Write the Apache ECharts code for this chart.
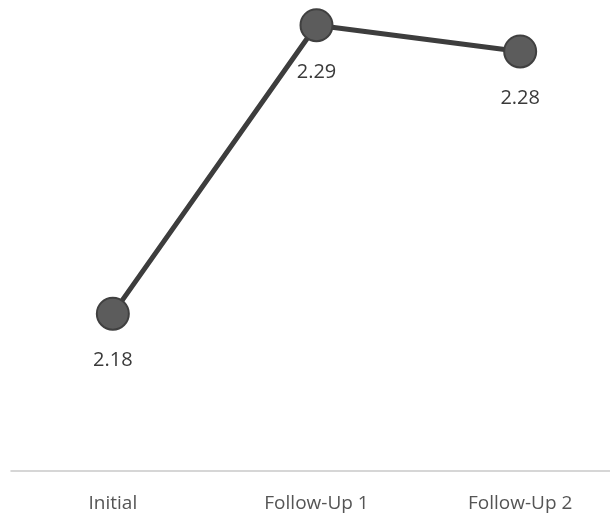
<!DOCTYPE html>
<html>
<head>
<meta charset="utf-8">
<script src="https://cdn.jsdelivr.net/npm/echarts@6/dist/echarts.min.js"></script>
<style>
  html, body { margin: 0; padding: 0; background: #ffffff; }
  #chart { width: 610px; height: 518px; }
</style>
</head>
<body>
<div id="chart"></div>
<script>
// Measurement occasions and mean scores
const categories = ['Initial', 'Follow-Up 1', 'Follow-Up 2'];
const scores = [2.18, 2.29, 2.28];

const chart = echarts.init(document.getElementById('chart'), null, { renderer: 'canvas' });

chart.setOption({
  backgroundColor: '#ffffff',
  animation: false,
  grid: { left: 11, width: 611, top: -1, bottom: 47, outerBoundsMode: 'none', containLabel: false },
  xAxis: {
    type: 'category',
    data: categories,
    boundaryGap: true,
    axisLine: { show: true, lineStyle: { color: '#c9c9c9', width: 1.5 } },
    axisTick: { show: false },
    axisLabel: {
      margin: 23,
      color: '#555555',
      fontFamily: 'Open Sans',
      fontSize: 19
    },
    splitLine: { show: false }
  },
  yAxis: {
    type: 'value',
    min: 2.12,
    max: 2.30,
    show: false,
    splitLine: { show: false }
  },
  series: [{
    type: 'line',
    data: scores,
    symbol: 'circle',
    symbolSize: 32,
    lineStyle: { color: '#3d3d3d', width: 5 },
    itemStyle: { color: '#5c5c5c', borderColor: '#404040', borderWidth: 2 },
    label: {
      show: true,
      position: 'bottom',
      distance: 20,
      color: '#3a3a3a',
      fontFamily: 'Open Sans',
      fontSize: 20,
      formatter: p => p.value.toFixed(2)
    }
  }]
});
</script>
</body>
</html>
